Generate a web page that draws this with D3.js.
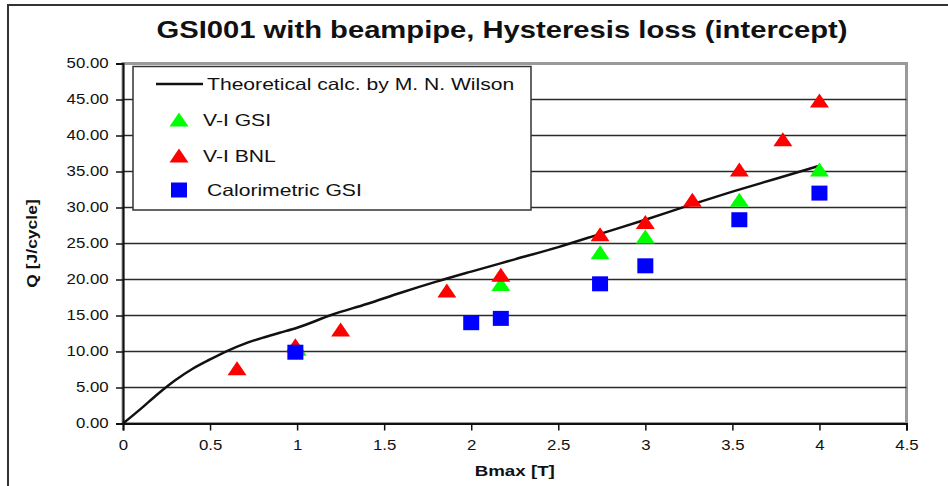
<!DOCTYPE html>
<html>
<head>
<meta charset="utf-8">
<script src="https://cdn.jsdelivr.net/npm/d3@7"></script>
<style>
  body { margin: 0; background: #fff; }
  text { font-family: "Liberation Sans", Arial, sans-serif; fill: #111; }
</style>
</head>
<body>
<div id="chart"></div>
<script>
// theoretical curve (M. N. Wilson)
const theoryB = [0, 0.1, 0.2, 0.3, 0.4, 0.5, 0.6, 0.7, 0.8, 0.9, 1.0, 1.2, 1.4, 1.6, 1.8, 2.0, 2.25, 2.5, 2.75, 3.0, 3.25, 3.5, 3.75, 4.0];
const theoryQ = [0, 2.0, 4.1, 6.0, 7.6, 8.9, 10.1, 11.1, 11.9, 12.6, 13.3, 15.1, 16.6, 18.2, 19.7, 21.1, 22.8, 24.5, 26.4, 28.3, 30.3, 32.2, 34.0, 35.8];

// V-I GSI
const gsiB = [1.0, 2.17, 2.74, 3.0, 3.54, 4.0];
const gsiQ = [10.3, 19.3, 23.7, 25.9, 31.0, 35.2];

// V-I BNL
const bnlB = [0.655, 0.99, 1.25, 1.86, 2.17, 2.74, 3.0, 3.27, 3.54, 3.79, 4.0];
const bnlQ = [7.6, 10.8, 13.0, 18.4, 20.6, 26.2, 27.9, 31.0, 35.2, 39.4, 44.8];

// Calorimetric GSI
const calB = [0.99, 2.0, 2.17, 2.74, 3.0, 3.54, 4.0];
const calQ = [9.9, 14.0, 14.6, 19.4, 21.9, 28.3, 32.0];

const xTicks = [0, 0.5, 1, 1.5, 2, 2.5, 3, 3.5, 4, 4.5];
const yTicks = [0, 5, 10, 15, 20, 25, 30, 35, 40, 45, 50];

const legendLabels = ['Theoretical calc. by M. N. Wilson', 'V-I GSI', 'V-I BNL', 'Calorimetric GSI'];

const W = 948, H = 486;
const sx = 1.2; // text in the picture is stretched sideways

const svg = d3.select('#chart').append('svg')
  .attr('width', W).attr('height', H);

// outer frame
svg.append('rect')
  .attr('x', 8).attr('y', 5).attr('width', 1000).attr('height', 600)
  .attr('fill', 'none').attr('stroke', '#333').attr('stroke-width', 2);

// title
svg.append('text')
  .attr('transform', `translate(502,38) scale(1.27,1)`)
  .attr('text-anchor', 'middle')
  .style('font-size', '23px').style('font-weight', 'bold')
  .text('GSI001 with beampipe, Hysteresis loss (intercept)');

const pLeft = 123, pRight = 906.5, pTop = 63.5, pBottom = 423.5;

const x = d3.scaleLinear().domain([0, 4.5]).range([pLeft, pRight]);
const y = d3.scaleLinear().domain([0, 50]).range([pBottom, pTop]);

// plot area border (grey)
svg.append('rect')
  .attr('x', pLeft).attr('y', pTop)
  .attr('width', pRight - pLeft).attr('height', pBottom - pTop)
  .attr('fill', 'none').attr('stroke', '#9a9a9a').attr('stroke-width', 3);

// gridlines
svg.append('g')
  .selectAll('line')
  .data(yTicks.filter(d => d > 0 && d < 50))
  .enter()
  .append('line')
  .attr('x1', pLeft).attr('x2', pRight)
  .attr('y1', d => y(d)).attr('y2', d => y(d))
  .attr('stroke', '#2a2a2a').attr('stroke-width', 1.5);

// axes
const yAxis = svg.append('g')
  .attr('transform', `translate(${pLeft},0)`)
  .call(d3.axisLeft(y).tickValues(yTicks).tickFormat(d3.format('.2f')).tickSize(7).tickPadding(5));

const xAxis = svg.append('g')
  .attr('transform', `translate(0,${pBottom})`)
  .call(d3.axisBottom(x).tickValues(xTicks).tickFormat(d3.format('~g')).tickSize(7).tickPadding(10));

[yAxis, xAxis].forEach(a => {
  a.select('.domain').attr('stroke', '#111').attr('stroke-width', 2);
  a.selectAll('.tick line').attr('stroke', '#111').attr('stroke-width', 1.5);
  a.selectAll('.tick text')
    .style('font-size', '14px').style('font-family', '"Liberation Sans", Arial, sans-serif')
    .attr('fill', '#222')
    .attr('transform', `scale(${sx},1)`);
});

// axis titles
svg.append('text')
  .attr('transform', `translate(37,${(pTop + pBottom) / 2}) rotate(-90) scale(1.25,1)`)
  .attr('text-anchor', 'middle')
  .style('font-size', '14px').style('font-weight', 'bold')
  .text('Q [J/cycle]');

svg.append('text')
  .attr('transform', `translate(${(pLeft + pRight) / 2},476) scale(1.25,1)`)
  .attr('text-anchor', 'middle')
  .style('font-size', '15px').style('font-weight', 'bold')
  .text('Bmax [T]');

// theoretical line
const line = d3.line()
  .x((d, i) => x(theoryB[i]))
  .y(d => y(d))
  .curve(d3.curveMonotoneX);

svg.append('path')
  .datum(theoryQ)
  .attr('fill', 'none')
  .attr('stroke', '#111')
  .attr('stroke-width', 2.5)
  .attr('stroke-linejoin', 'round')
  .attr('d', line);

const triPath = 'M0,-7.5L9.5,6.5L-9.5,6.5Z';

function triangles(bs, qs, color) {
  svg.append('g')
    .selectAll('path')
    .data(qs)
    .enter()
    .append('path')
    .attr('transform', (d, i) => `translate(${x(bs[i])},${y(d)})`)
    .attr('d', triPath)
    .attr('fill', color);
}

triangles(gsiB, gsiQ, '#00ff00');
triangles(bnlB, bnlQ, '#ff0000');

svg.append('g')
  .selectAll('rect')
  .data(calQ)
  .enter()
  .append('rect')
  .attr('x', (d, i) => x(calB[i]) - 8)
  .attr('y', d => y(d) - 7.5)
  .attr('width', 16).attr('height', 15)
  .attr('fill', '#0000ff');

// legend
const lg = svg.append('g');
lg.append('rect')
  .attr('x', 133).attr('y', 66.5).attr('width', 398).attr('height', 143.5)
  .attr('fill', '#fff').attr('stroke', '#333').attr('stroke-width', 1.5);

lg.append('line')
  .attr('x1', 156).attr('x2', 203).attr('y1', 84).attr('y2', 84)
  .attr('stroke', '#111').attr('stroke-width', 2.5);

lg.append('path')
  .attr('transform', 'translate(179,120)').attr('d', triPath).attr('fill', '#00ff00');
lg.append('path')
  .attr('transform', 'translate(179,156)').attr('d', triPath).attr('fill', '#ff0000');
lg.append('rect')
  .attr('x', 171).attr('y', 182.5).attr('width', 16).attr('height', 15).attr('fill', '#0000ff');

const legendX = [207, 203, 203, 207];
const legendY = [90, 126, 162, 196];
lg.selectAll('text.lab')
  .data(legendLabels)
  .enter()
  .append('text')
  .attr('class', 'lab')
  .attr('transform', (d, i) => `translate(${legendX[i]},${legendY[i]}) scale(1.28,1)`)
  .style('font-size', '16.5px')
  .attr('fill', '#222')
  .text(d => d);
</script>
</body>
</html>
